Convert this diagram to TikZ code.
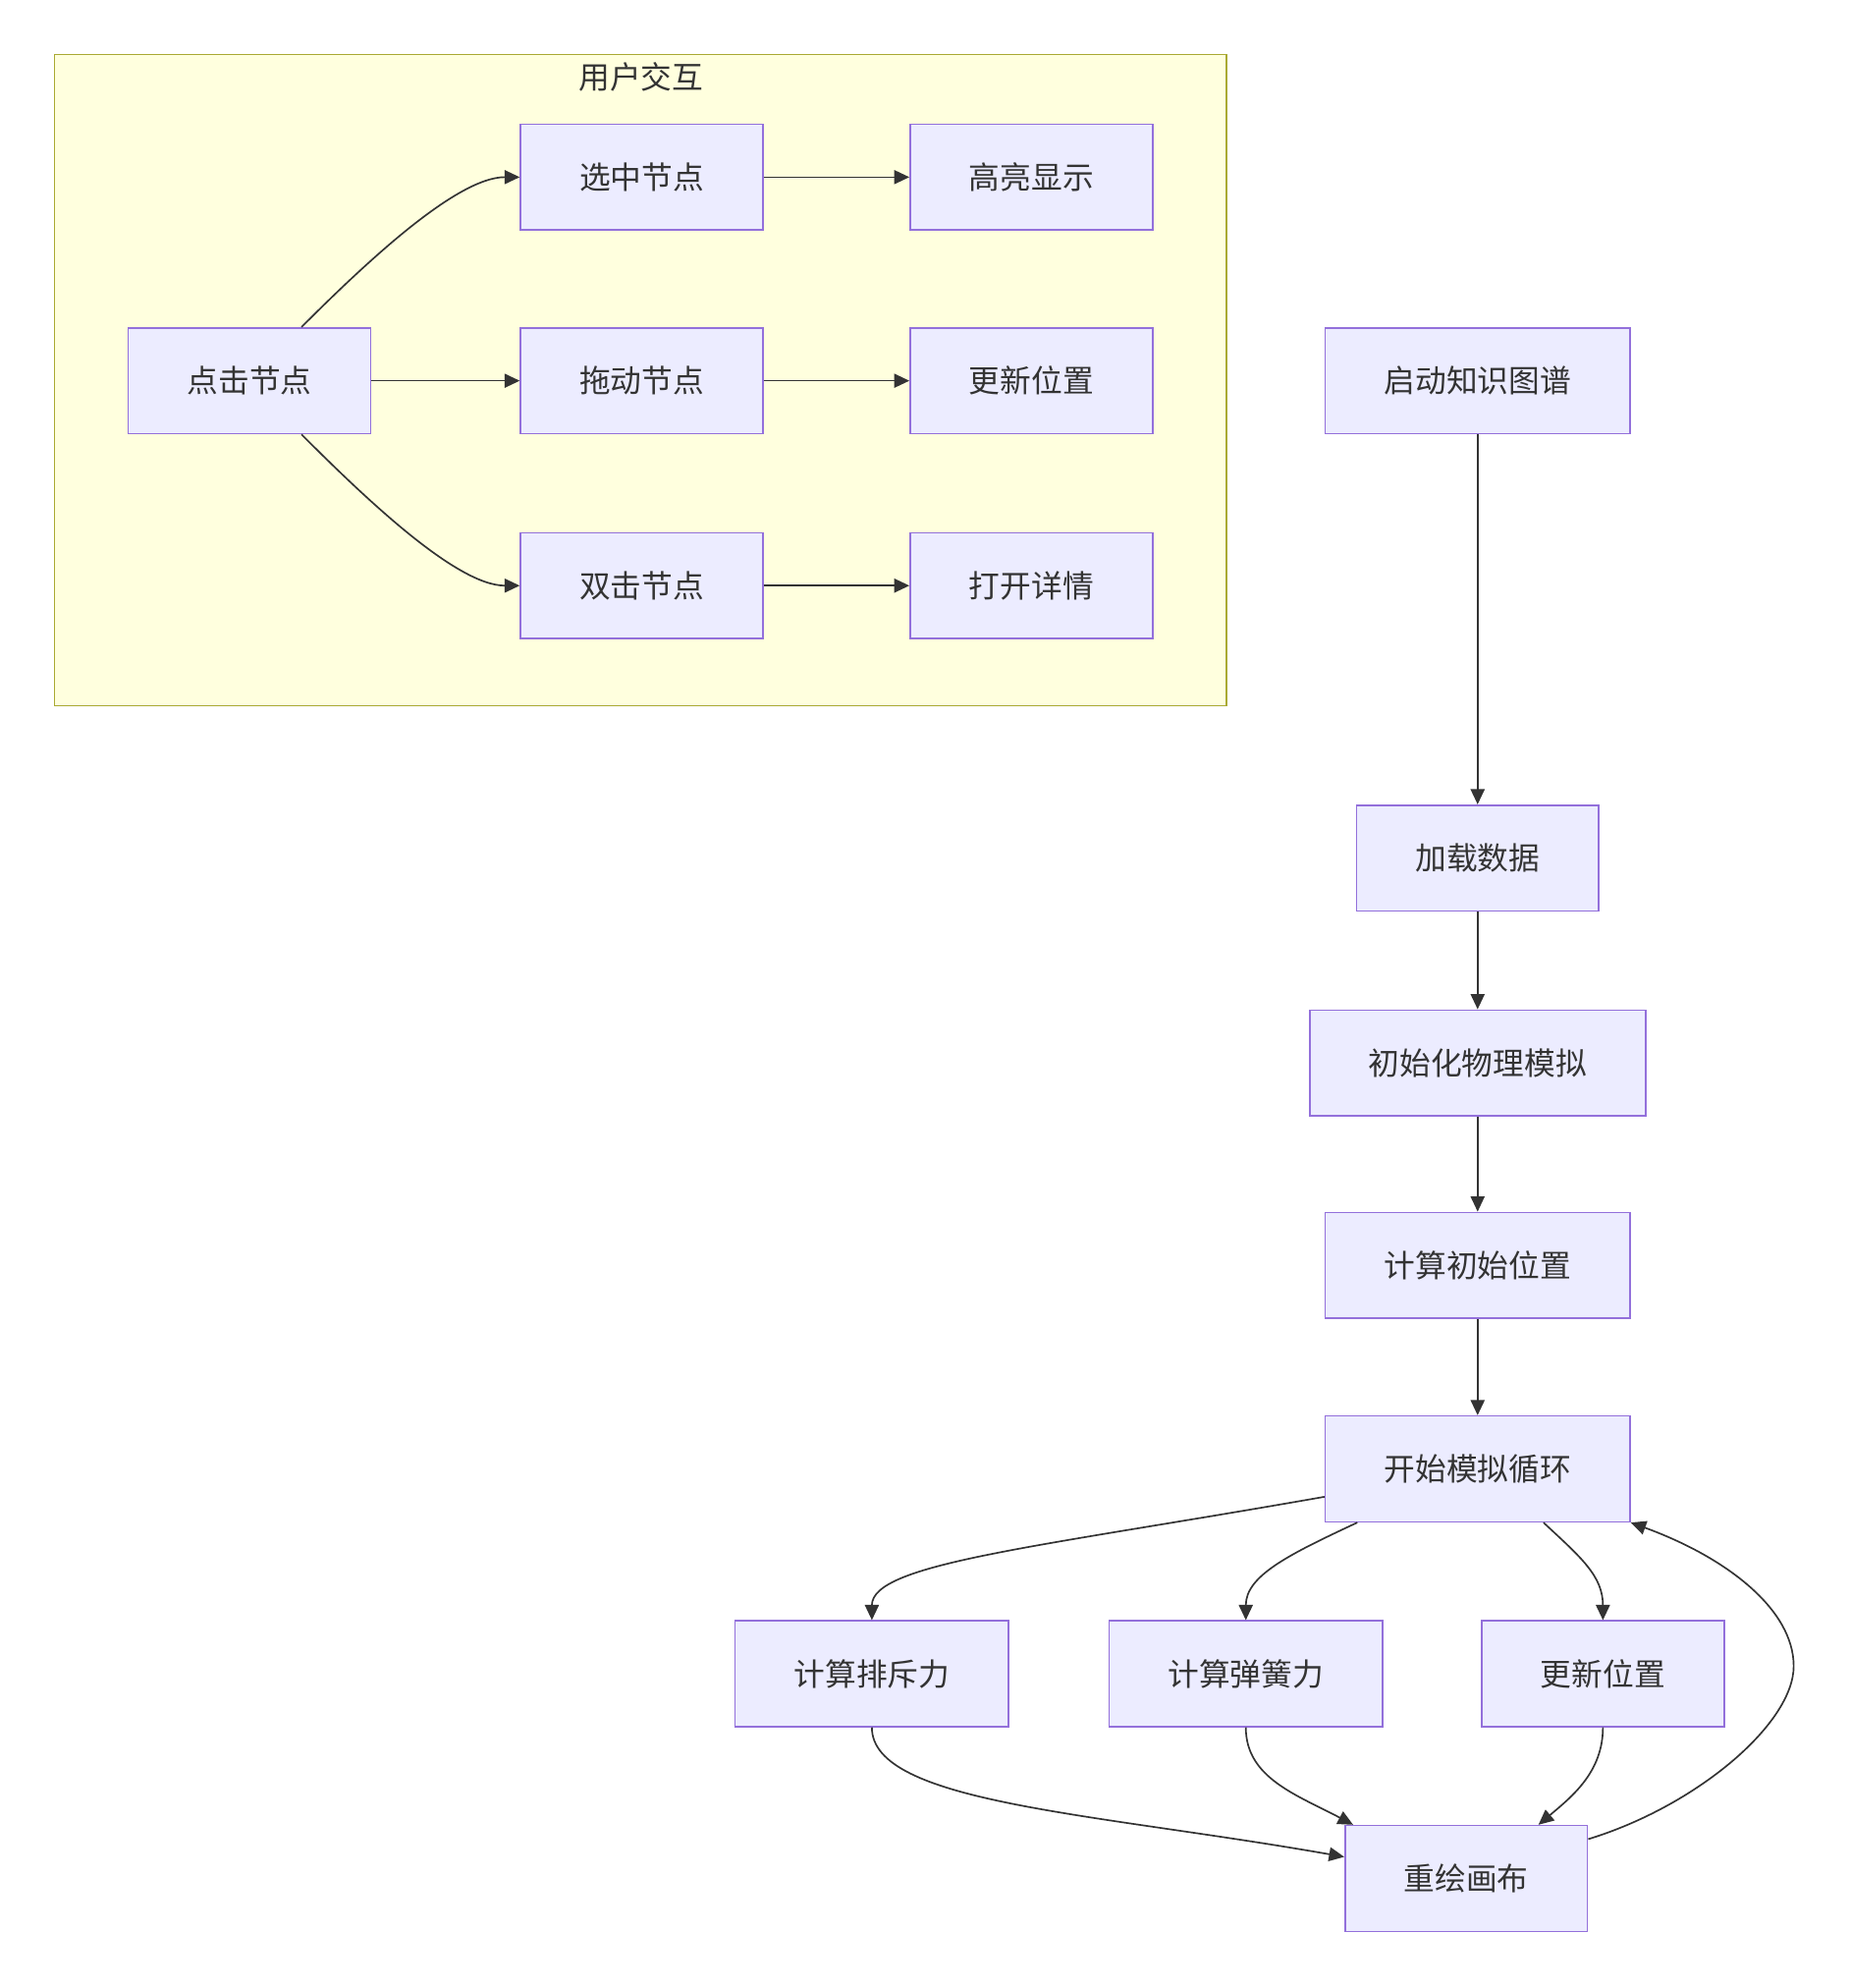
\documentclass[tikz,border=0pt]{standalone}
\usepackage{fontspec}
\setmainfont{Noto Sans CJK SC}
\usetikzlibrary{positioning,arrows.meta}
\definecolor{nodefill}{HTML}{ECECFF}
\definecolor{nodeline}{HTML}{9370DB}
\definecolor{groupfill}{HTML}{FFFFDE}
\definecolor{groupline}{HTML}{AAAA33}
\definecolor{ink}{HTML}{333333}

\begin{document}
\begin{tikzpicture}[x=1pt, y=1pt,
        box/.style = {draw=nodeline, fill=nodefill, line width=1.2pt, minimum height=83.5pt, inner xsep=46.5pt, text=ink, font=\fontsize{24.6}{30}\selectfont},
        flow/.style = {draw=ink, line width=1.3pt, -{Triangle[length=12pt, width=11pt]}}]
        \useasboundingbox (0,0) rectangle (1460,-1569);
        % user interaction group
        \draw[fill=groupfill, draw=groupline, line width=1.2pt] (43,-43) rectangle (968,-557);
        \node[text=ink, font=\fontsize{24.6}{30}\selectfont] (title) at (506,-61) {用户交互};
        \node[box] (click) at (197,-300.5) {点击节点};
        \node[box, right=117pt of click] (drag) {拖动节点};
        \node[box, above=76pt of drag] (select) {选中节点};
        \node[box, below=77pt of drag] (dbl) {双击节点};
        \node[box, right=115pt of select] (high) {高亮显示};
        \node[box, right=115pt of drag] (moved) {更新位置};
        \node[box, right=115pt of dbl] (detail) {打开详情};
        \draw[flow] ([xshift=41pt]click.north) to[out=45, in=180, out distance=70pt, in distance=50pt] (select.west);
        \draw[flow] (click) -- (drag);
        \draw[flow] ([xshift=41pt]click.south) to[out=-45, in=180, out distance=70pt, in distance=50pt] (dbl.west);
        \draw[flow] (select) -- (high);
        \draw[flow] (drag) -- (moved);
        \draw[flow] (dbl) -- (detail);
        % simulation
        \node[box] (start) at (1166.5,-300.5) {启动知识图谱};
        \node[box, below=292pt of start] (load) {加载数据};
        \node[box, below=77pt of load] (init) {初始化物理模拟};
        \node[box, below=75pt of init] (calc) {计算初始位置};
        \node[box, below=76pt of calc] (loop) {开始模拟循环};
        \node[box] (spring) at (983.5,-1321) {计算弹簧力};
        \node[box, left=78pt of spring] (repel) {计算排斥力};
        \node[box, right=77pt of spring] (update) {更新位置};
        \node[box] (redraw) at (1157.5,-1482.5) {重绘画布};
        \coordinate (loopbend) at (1416,-1315);
        \draw[flow] (start) -- (load);
        \draw[flow] (load) -- (init);
        \draw[flow] (init) -- (calc);
        \draw[flow] (calc) -- (loop);
        \draw[flow] ([yshift=-22pt]loop.west) to[out=190, in=90, out distance=230pt, in distance=45pt] (repel.north);
        \draw[flow] ([xshift=-95pt]loop.south) to[out=205, in=90, out distance=60pt, in distance=35pt] (spring.north);
        \draw[flow] ([xshift=52pt]loop.south) to[out=-43, in=90, out distance=40pt, in distance=35pt] (update.north);
        \draw[flow] (repel.south) to[out=-90, in=170, out distance=60pt, in distance=200pt] ([yshift=17pt]redraw.west);
        \draw[flow] (spring.south) to[out=-90, in=152, out distance=40pt, in distance=50pt] ([xshift=7pt]redraw.north west);
        \draw[flow] (update.south) to[out=-90, in=40, out distance=35pt, in distance=35pt] ([xshift=57pt]redraw.north);
        \draw[flow] ([yshift=31pt]redraw.east) to[out=17, in=-90, out distance=90pt, in distance=45pt] (loopbend)
            to[out=90, in=-20, out distance=45pt, in distance=80pt] (loop.south east);
    \end{tikzpicture}
\end{document}
